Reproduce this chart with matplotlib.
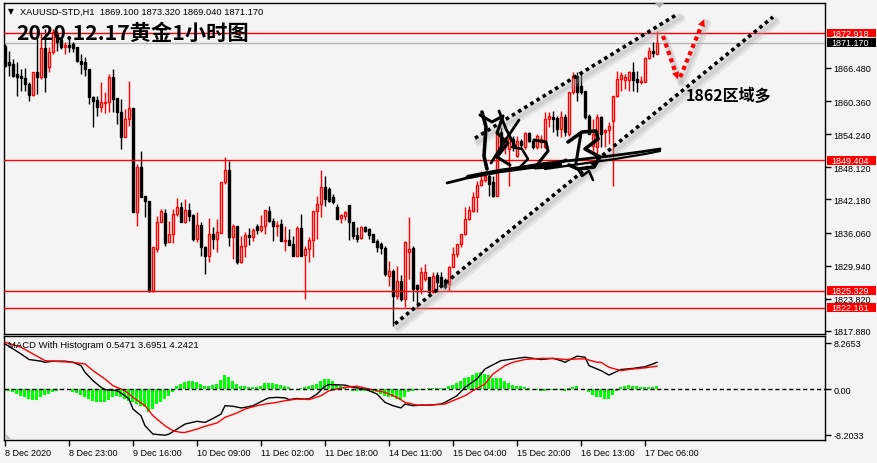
import matplotlib
matplotlib.use("Agg")
import matplotlib.pyplot as plt
import matplotlib.transforms as mtransforms
import numpy as np
from matplotlib.lines import Line2D
from matplotlib.patches import Polygon, Rectangle

plt.rcParams["font.family"] = ["Liberation Sans", "DejaVu Sans"]

W, H = 878, 464
BG = "#f4f4f4"
CJK = ["Noto Sans CJK SC", "DejaVu Sans"]

SYMBOL = "XAUUSD-STD,H1"
LAST_OHLC = "1869.100 1873.320 1869.040 1871.170"
TITLE = "2020.12.17黄金1小时图"
NOTE = "1862区域多"
MACD_LABEL = "MACD With Histogram 0.5471 3.6951 4.2421"

# H1 candles, 8 Dec 07:00 .. 17 Dec 09:00
opens = np.array([
    1870.5, 1867.6, 1867.2, 1865.4, 1865.0, 1864.6, 1863.5, 1861.5, 1865.7, 1864.8,
    1870.2, 1866.7, 1869.4, 1872.8, 1871.8, 1870.4, 1870.7, 1870.9, 1870.4, 1867.8,
    1867.6, 1866.3, 1861.1, 1860.6, 1859.3, 1860.0, 1860.2, 1864.8, 1860.9, 1858.3,
    1853.7, 1857.1, 1859.1, 1839.9, 1848.2, 1842.8, 1841.9, 1825.3, 1833.0, 1838.0,
    1839.7, 1834.3, 1835.8, 1839.5, 1840.8, 1838.0, 1840.2, 1839.3, 1834.9, 1837.5,
    1833.4, 1831.7, 1835.8, 1834.9, 1836.0, 1845.4, 1847.6, 1835.3, 1837.3, 1830.6,
    1833.6, 1835.6, 1835.3, 1837.3, 1836.5, 1837.3, 1840.1, 1838.2, 1837.3, 1837.7,
    1834.5, 1834.7, 1834.0, 1831.7, 1836.9, 1831.9, 1833.0, 1834.7, 1840.1, 1841.3,
    1844.5, 1844.1, 1842.6, 1840.8, 1838.8, 1839.1, 1841.2, 1838.0, 1835.6, 1835.1,
    1837.1, 1836.7, 1835.8, 1834.5, 1834.0, 1833.2, 1828.0, 1829.0, 1824.3, 1827.1,
    1823.8, 1832.5, 1833.2, 1826.4, 1825.6, 1827.5, 1827.9, 1825.1, 1828.2, 1827.9,
    1827.3, 1826.6, 1829.7, 1832.1, 1834.0, 1835.8, 1838.6, 1840.1, 1842.6, 1844.9,
    1845.8, 1846.5, 1845.4, 1842.8, 1854.6, 1851.9, 1851.5, 1853.4, 1850.2, 1853.0,
    1851.9, 1854.5, 1853.0, 1851.9, 1852.8, 1851.9, 1857.1, 1857.4, 1857.2, 1855.2,
    1857.4, 1854.3, 1862.0, 1865.0, 1863.2, 1862.2, 1857.6, 1852.1, 1851.9, 1857.4,
    1854.6, 1855.0, 1856.7, 1861.3, 1864.4, 1864.3, 1864.3, 1865.7, 1864.4, 1863.9,
    1863.9, 1868.3, 1869.6, 1869.1,
])
highs = np.array([
    1870.9, 1869.6, 1868.1, 1867.6, 1866.3, 1866.5, 1863.9, 1865.7, 1873.5, 1873.0,
    1873.7, 1870.4, 1873.6, 1873.3, 1872.2, 1871.3, 1871.8, 1871.3, 1870.4, 1869.1,
    1868.5, 1866.3, 1861.3, 1861.3, 1863.9, 1862.0, 1865.4, 1866.3, 1860.9, 1860.7,
    1858.9, 1864.1, 1859.1, 1848.7, 1851.2, 1842.8, 1841.9, 1833.4, 1839.1, 1840.4,
    1840.4, 1838.2, 1840.4, 1842.5, 1841.7, 1842.3, 1841.5, 1839.5, 1839.9, 1838.0,
    1833.6, 1838.8, 1837.1, 1838.6, 1845.4, 1850.0, 1849.3, 1837.7, 1837.3, 1835.4,
    1836.2, 1836.9, 1836.9, 1837.7, 1839.3, 1840.2, 1841.0, 1838.8, 1838.2, 1838.6,
    1837.3, 1836.7, 1835.4, 1837.3, 1839.5, 1833.6, 1835.3, 1840.1, 1842.8, 1847.6,
    1846.5, 1844.5, 1843.2, 1841.3, 1839.5, 1840.1, 1841.2, 1838.0, 1837.1, 1837.3,
    1837.3, 1836.9, 1835.8, 1834.9, 1834.3, 1833.6, 1830.8, 1829.3, 1829.9, 1828.2,
    1834.5, 1838.9, 1833.6, 1826.6, 1829.7, 1830.3, 1827.9, 1828.8, 1828.8, 1828.8,
    1827.7, 1829.9, 1833.4, 1834.0, 1835.8, 1840.8, 1841.0, 1843.6, 1845.6, 1847.4,
    1847.4, 1846.9, 1846.5, 1854.6, 1855.6, 1853.7, 1854.3, 1853.9, 1853.9, 1853.4,
    1854.6, 1854.6, 1853.4, 1854.3, 1854.1, 1858.3, 1858.3, 1858.5, 1857.6, 1858.5,
    1858.0, 1862.0, 1865.7, 1865.7, 1865.7, 1862.2, 1858.0, 1857.1, 1858.0, 1857.6,
    1855.2, 1856.5, 1861.3, 1865.9, 1865.7, 1865.4, 1865.9, 1867.6, 1865.9, 1865.0,
    1868.5, 1870.4, 1871.3, 1873.32,
])
lows = np.array([
    1866.7, 1865.0, 1864.8, 1861.3, 1862.2, 1862.2, 1860.4, 1861.3, 1861.7, 1864.4,
    1862.0, 1865.7, 1869.1, 1869.6, 1870.0, 1869.1, 1869.4, 1869.4, 1867.6, 1865.4,
    1865.0, 1859.8, 1855.6, 1857.6, 1858.3, 1858.2, 1858.3, 1858.3, 1856.1, 1851.5,
    1853.7, 1855.8, 1839.9, 1837.3, 1842.6, 1838.9, 1825.1, 1825.1, 1832.5, 1838.0,
    1833.6, 1834.3, 1834.1, 1839.1, 1838.0, 1837.8, 1838.2, 1834.5, 1834.3, 1831.7,
    1828.4, 1830.6, 1833.0, 1832.5, 1836.0, 1845.0, 1833.6, 1831.2, 1830.3, 1830.4,
    1831.6, 1833.8, 1834.5, 1835.8, 1836.2, 1835.8, 1838.0, 1834.5, 1835.4, 1834.5,
    1832.7, 1833.8, 1831.7, 1831.7, 1831.7, 1823.8, 1830.6, 1831.6, 1834.9, 1838.9,
    1841.0, 1841.7, 1841.3, 1838.6, 1837.8, 1838.4, 1834.7, 1834.9, 1834.3, 1834.9,
    1836.2, 1834.9, 1834.3, 1832.5, 1832.1, 1828.0, 1826.2, 1818.8, 1823.8, 1823.4,
    1822.3, 1827.5, 1823.4, 1822.3, 1824.7, 1827.1, 1824.9, 1824.9, 1825.1, 1826.0,
    1825.6, 1825.3, 1829.7, 1831.6, 1833.4, 1835.6, 1838.4, 1839.9, 1839.9, 1844.7,
    1845.4, 1842.8, 1842.6, 1842.8, 1851.2, 1850.6, 1844.7, 1851.2, 1850.0, 1851.5,
    1851.5, 1852.8, 1851.5, 1851.5, 1851.7, 1851.7, 1855.6, 1854.6, 1853.9, 1853.7,
    1853.9, 1853.9, 1861.7, 1860.4, 1861.7, 1857.1, 1854.3, 1851.0, 1849.7, 1851.9,
    1851.9, 1852.4, 1844.7, 1861.1, 1862.2, 1862.6, 1862.2, 1862.2, 1862.0, 1863.5,
    1863.9, 1868.1, 1868.5, 1869.04,
])
closes = np.array([
    1866.8, 1867.0, 1865.0, 1864.8, 1864.6, 1863.5, 1861.5, 1865.7, 1864.8, 1870.2,
    1864.8, 1869.4, 1873.1, 1871.3, 1870.4, 1870.7, 1870.4, 1870.2, 1867.8, 1867.2,
    1866.3, 1861.1, 1860.4, 1859.3, 1860.2, 1860.2, 1864.8, 1860.7, 1858.3, 1853.7,
    1857.1, 1859.1, 1839.9, 1848.2, 1842.6, 1841.9, 1825.3, 1833.4, 1838.0, 1840.1,
    1834.1, 1835.8, 1839.5, 1840.8, 1838.0, 1840.2, 1839.1, 1834.9, 1837.5, 1833.4,
    1831.7, 1835.8, 1834.9, 1836.2, 1845.4, 1847.6, 1835.3, 1837.3, 1830.6, 1833.6,
    1835.6, 1835.3, 1836.5, 1836.5, 1837.3, 1840.2, 1838.2, 1837.3, 1837.5, 1834.5,
    1834.7, 1833.8, 1831.7, 1836.9, 1831.7, 1833.0, 1834.7, 1840.1, 1841.3, 1844.5,
    1842.3, 1841.9, 1841.7, 1838.6, 1839.3, 1839.9, 1838.0, 1835.4, 1834.9, 1837.1,
    1836.4, 1835.6, 1834.3, 1833.4, 1833.2, 1828.4, 1829.0, 1824.3, 1827.1, 1823.8,
    1834.3, 1833.0, 1825.6, 1825.6, 1828.8, 1828.8, 1825.1, 1828.0, 1826.9, 1826.2,
    1826.0, 1829.7, 1832.1, 1834.0, 1835.8, 1838.6, 1840.2, 1842.6, 1844.9, 1845.8,
    1846.5, 1845.0, 1842.8, 1854.6, 1851.9, 1853.4, 1853.4, 1851.9, 1853.0, 1852.2,
    1854.5, 1853.0, 1851.9, 1853.9, 1853.4, 1857.1, 1857.6, 1857.1, 1855.2, 1857.4,
    1854.6, 1862.0, 1865.0, 1862.0, 1862.0, 1857.4, 1854.3, 1854.3, 1857.4, 1854.3,
    1855.0, 1855.8, 1861.3, 1864.4, 1865.2, 1864.8, 1865.7, 1864.3, 1863.9, 1864.1,
    1868.3, 1869.6, 1869.3, 1871.17,
])

price_ticks = [1866.480, 1860.360, 1854.240, 1848.120, 1842.180,
               1836.060, 1829.940, 1823.820, 1817.880]
red_levels = [1872.918, 1849.404, 1825.329, 1822.161]
bid_level = 1871.170

time_tick_bars = [0, 16, 32, 48, 64, 80, 96, 112, 128, 144, 160]
time_tick_labels = ["8 Dec 2020", "8 Dec 23:00", "9 Dec 16:00", "10 Dec 09:00",
                    "11 Dec 02:00", "11 Dec 18:00", "14 Dec 11:00", "15 Dec 04:00",
                    "15 Dec 20:00", "16 Dec 13:00", "17 Dec 06:00"]

# MACD (black), signal (red), histogram (green)
macd_bars = [0, 2, 4, 6, 9, 10, 12, 15, 17, 19, 20, 22, 24, 25, 28, 30, 31, 32, 34, 35,
             37, 40, 41, 43, 45, 48, 50, 52, 54, 55, 57, 59, 60, 62, 65, 66, 68, 70, 71, 73,
             74, 76, 78, 80, 81, 85, 87, 90, 93, 95, 97, 99, 100, 102, 104, 106, 109, 110,
             113, 115, 118, 120, 124, 127, 130, 134, 137, 139, 140, 143, 145, 146, 148,
             149, 151, 154, 157, 160, 162, 163]
macd_vals = [8.1, 7.2, 6.3, 5.3, 5.0, 4.8, 5.0, 5.0, 4.8, 4.2, 3.0, 1.5, 0.3, -0.1, -0.3,
             -1.2, -1.8, -3.6, -4.8, -6.6, -8.1, -8.3, -8.1, -7.2, -6.3, -5.8, -6.0, -5.3,
             -4.5, -3.0, -3.1, -3.4, -3.3, -3.0, -1.9, -1.6, -1.5, -1.6, -1.9, -1.7,
             -1.8, -1.8, -0.9, 0.5, 0.8, 0.7, 0.3, 0.0, -0.9, -2.4, -3.0, -3.4, -2.7,
             -3.0, -2.9, -2.9, -2.7, -2.4, -1.2, 0.3, 1.8, 3.6, 5.1, 5.4, 5.7, 5.3, 5.5,
             5.1, 4.8, 5.9, 5.7, 4.2, 3.6, 3.3, 2.5, 3.5, 3.7, 4.0, 4.5, 4.8]
signal_bars = [0, 4, 7, 10, 14, 17, 20, 22, 25, 27, 30, 32, 35, 37, 40, 42, 44, 45, 48, 50,
               53, 55, 58, 60, 63, 65, 68, 70, 73, 76, 79, 81, 85, 88, 91, 95, 98, 100,
               103, 106, 110, 112, 115, 117, 120, 122, 125, 127, 130, 134, 137, 140, 143,
               145, 148, 149, 151, 154, 157, 160, 163]
signal_vals = [8.4, 7.5, 6.3, 5.1, 4.9, 4.8, 4.5, 3.3, 1.8, 0.6, -0.3, -1.5, -3.0, -4.8,
               -6.6, -7.5, -7.8, -7.8, -7.2, -6.7, -6.1, -5.1, -4.3, -3.6, -3.0, -2.7,
               -2.4, -2.1, -1.8, -1.9, -1.2, -0.3, 0.3, 0.5, 0.0, -0.6, -1.5, -2.4, -2.9,
               -2.9, -2.7, -2.1, -1.2, -0.3, 0.9, 2.7, 4.2, 4.8, 5.3, 5.5, 5.5, 5.3, 5.4,
               5.4, 4.8, 4.8, 3.9, 3.3, 3.6, 3.8, 4.1]
hist = [
    -0.3, -0.3, -0.6, -0.9, -1.2, -1.5, -1.8, -1.9, -1.9, -1.5,
    -1.1, -0.9, -0.6, -0.3, -0.1, 0.0, -0.2, -0.5, -0.7, -1.0,
    -1.5, -1.8, -2.1, -2.4, -2.4, -2.3, -1.9, -1.5, -1.2, -1.5,
    -1.8, -2.1, -2.3, -2.7, -3.1, -3.3, -4.1, -3.6, -2.7, -2.4,
    -1.8, -1.2, -0.6, 0.5, 0.9, 1.2, 1.4, 1.4, 1.2, 0.9,
    0.6, 0.6, 0.7, 0.9, 1.7, 2.5, 2.1, 1.5, 0.9, 0.6,
    0.5, 0.4, 0.3, 0.4, 0.6, 1.0, 1.1, 1.1, 0.9, 0.7,
    0.5, 0.3, -0.1, 0.0, 0.1, 0.3, 0.5, 0.7, 0.9, 1.5,
    1.8, 1.8, 1.5, 0.9, 0.5, 0.3, 0.0, -0.3, -0.4, -0.4,
    -0.3, -0.3, -0.5, -0.6, -0.9, -1.2, -1.5, -1.5, -1.8, -1.9,
    -1.5, -0.6, -0.3, -0.1, -0.1, 0.0, 0.1, 0.1, 0.1, 0.1,
    0.2, 0.5, 0.7, 1.1, 1.5, 1.9, 2.1, 2.5, 2.8, 3.0,
    2.7, 2.5, 1.9, 1.9, 1.9, 1.5, 1.1, 0.8, 0.6, 0.5,
    0.3, 0.1, 0.0, -0.2, -0.4, -0.3, -0.1, -0.1, -0.1, -0.2,
    -0.3, 0.1, 0.3, 0.5, 0.0, 0.0, -0.6, -1.1, -1.5, -1.5,
    -1.8, -1.8, -1.1, -0.3, 0.3, 0.6, 0.8, 0.6, 0.5, 0.3,
    0.3, 0.4, 0.4, 0.55,
]
macd_ticks = [8.2653, 0.0, -8.2033]
macd_tick_labels = ["8.2653", "0.00", "-8.2033"]

# hand-drawn objects: (bar, price) anchors
channel_lower = ([97.5, 192.0], [1819.2, 1875.9])
channel_upper = ([117.5, 168.25], [1853.5, 1876.5])
arrow_down = ([164.5, 168.2], [1872.4, 1864.4])
arrow_up = ([168.8, 174.8], [1864.8, 1875.5])


def pixel_transform(fig):
    # screen pixels, origin top-left
    return mtransforms.Affine2D().scale(1 / W, -1 / H).translate(0, 1) + fig.transFigure


fig = plt.figure(figsize=(W / 100, H / 100), dpi=100, facecolor=BG)
ax = fig.add_axes([4 / W, 1 - 335 / H, 821 / W, 331 / H], facecolor=BG)
axm = fig.add_axes([4 / W, 1 - 441 / H, 821 / W, 104 / H], facecolor=BG)
pxt = pixel_transform(fig)

# candles
x = np.arange(len(opens))
up = closes >= opens
body_lo = np.minimum(opens, closes)
body_h = np.maximum(np.abs(closes - opens), 0.12)
ax.vlines(x[up], lows[up], highs[up], color="#ff0000", lw=1, zorder=3)
ax.vlines(x[~up], lows[~up], highs[~up], color="black", lw=1, zorder=3)
ax.bar(x[up], body_h[up], bottom=body_lo[up], width=0.5, facecolor=BG,
       edgecolor="#ff0000", lw=1, zorder=4)
ax.bar(x[~up], body_h[~up], bottom=body_lo[~up], width=0.5, facecolor="black",
       edgecolor="black", lw=1, zorder=4)

for lvl in red_levels:
    ax.axhline(lvl, color="#ff0000", lw=1, zorder=5)
ax.axhline(bid_level, color="#b8b8b8", lw=1, zorder=2)

# channel lines with soft shadow
for off, alpha in ((3, 0.25), (5, 0.2)):
    shadow = mtransforms.offset_copy(ax.transData, fig=fig, x=off - 1, y=-off,
                                     units="dots")
    for xs, ys in (channel_lower, channel_upper):
        ax.plot(xs, ys, color="#a0a0a0", lw=5, alpha=alpha, solid_capstyle="round",
                transform=shadow, zorder=5)
    for xs, ys in (arrow_down, arrow_up):
        ax.plot(xs, ys, color="#a0a0a0", lw=4, alpha=alpha, transform=shadow, zorder=5)

for xs, ys in (channel_lower, channel_upper):
    ax.plot(xs, ys, color="black", lw=2.6, ls=(0, (1, 1)), dash_capstyle="butt", zorder=6)

for xs, ys in (arrow_down, arrow_up):
    ax.plot(xs[:1] + [xs[0] + 0.85 * (xs[1] - xs[0])],
            ys[:1] + [ys[0] + 0.85 * (ys[1] - ys[0])],
            color="#ff0000", lw=3, ls=(0, (1, 0.9)), dash_capstyle="butt", zorder=7)
    ax.annotate("", xy=(xs[1], ys[1]),
                xytext=(xs[0] + 0.7 * (xs[1] - xs[0]), ys[0] + 0.7 * (ys[1] - ys[0])),
                arrowprops=dict(arrowstyle="-|>", color="#ff0000", lw=0,
                                mutation_scale=13, shrinkA=0, shrinkB=0), zorder=7)

ax.set_xlim(-0.25, 205)
ax.set_ylim(1817.32, 1878.49)
ax.tick_params(axis="x", bottom=False, labelbottom=False)
ax.yaxis.tick_right()
ax.set_yticks(price_ticks)
ax.set_yticklabels([f"{v:.3f}" for v in price_ticks])
ax.tick_params(axis="y", direction="out", length=4, width=1, pad=2, labelsize=6.5)

# price tags on the scale
ytr = ax.get_yaxis_transform()
tags = [(v, "#ff0000") for v in red_levels] + [(bid_level, "black")]
for v, c in tags:
    ax.add_patch(Rectangle((1.0025, v - 0.8), 0.06, 1.6, transform=ytr, facecolor=c,
                           edgecolor="none", clip_on=False, zorder=10))
    ax.text(1.0075, v, f"{v:.3f}", transform=ytr, ha="left", va="center",
            fontsize=6.5, color="white", clip_on=False, zorder=11)

# MACD panel
axm.bar(x, hist, width=0.75, color="#00ff00", zorder=2)
axm.plot(macd_bars, macd_vals, color="black", lw=1, zorder=3)
axm.plot(signal_bars, signal_vals, color="#ff0000", lw=1, zorder=3)
axm.axhline(0, color="black", lw=1, ls=(0, (3, 2)), zorder=4)
axm.set_xlim(-0.25, 205)
axm.set_ylim(-9.16, 9.52)
axm.yaxis.tick_right()
axm.set_yticks(macd_ticks)
axm.set_yticklabels(macd_tick_labels)
axm.tick_params(axis="y", direction="out", length=4, width=1, pad=2, labelsize=6.5)
axm.set_xticks(time_tick_bars)
axm.set_xticklabels(time_tick_labels, ha="left")
axm.tick_params(axis="x", direction="out", length=4, width=1, pad=1.5, labelsize=6.5)

for a in (ax, axm):
    for s in a.spines.values():
        s.set_color("black")
        s.set_linewidth(1)

# header and overlay texts
fig.text(8 / W, 1 - 12 / H, "▼", fontsize=5.5, va="center", family="DejaVu Sans")
fig.text(20 / W, 1 - 12 / H, f"{SYMBOL}  {LAST_OHLC}", fontsize=6.7, va="center")
fig.text(16 / W, 1 - 33 / H, TITLE, fontsize=15.3, fontweight="bold", va="center",
         family=CJK, zorder=20)
fig.text(686 / W, 1 - 96 / H, NOTE, fontsize=11.5, fontweight="bold", va="center",
         family=CJK, zorder=20)
fig.text(8 / W, 1 - 346 / H, MACD_LABEL, fontsize=6.8, va="center", zorder=20)

# chart-shift marker
fig.patches.append(Polygon([(655, 4), (664, 4), (659.5, 9)], closed=True,
                           facecolor="#b0b0b0", edgecolor="none", transform=pxt))
fig.patches.append(Polygon([(5, 434), (5, 440), (11, 440)], closed=True,
                           facecolor="#c0c0c0", edgecolor="none", transform=pxt))

# signature watermark
strokes = [
    ([447, 475, 505, 540, 575, 610, 640, 660], [184, 177, 171, 165, 161, 157, 153, 150], 2.0),
    ([468, 500, 530, 560], [178, 172, 168, 166], 3.2),
    ([545, 580, 615, 645, 660], [170, 165, 160, 155, 152], 1.6),
    ([482, 486, 484, 487], [113, 128, 157, 170], 2.6),
    ([480, 492, 503, 497, 508, 497, 510], [116, 123, 117, 134, 144, 158, 166], 2.2),
    ([499, 506, 516], [112, 130, 149], 2.0),
    ([519, 505, 491], [121, 142, 164], 2.0),
    ([512, 522, 528, 520], [148, 150, 160, 168], 1.8),
    ([534, 546, 548, 540, 535, 550, 566], [141, 143, 152, 162, 169, 168, 161], 2.2),
    ([568, 582, 596, 598, 585, 600, 594, 578, 569], [143, 133, 132, 140, 150, 158, 168, 170, 166], 2.6),
    ([581, 576], [134, 164], 2.2),
    ([578, 582, 589, 593], [170, 177, 172, 181], 1.8),
]
for xs, ys, lw in strokes:
    fig.add_artist(Line2D(xs, ys, color="black", lw=lw, transform=pxt,
                          solid_capstyle="round", solid_joinstyle="round", zorder=15))

fig.savefig("out.png", dpi=100, facecolor=BG)
